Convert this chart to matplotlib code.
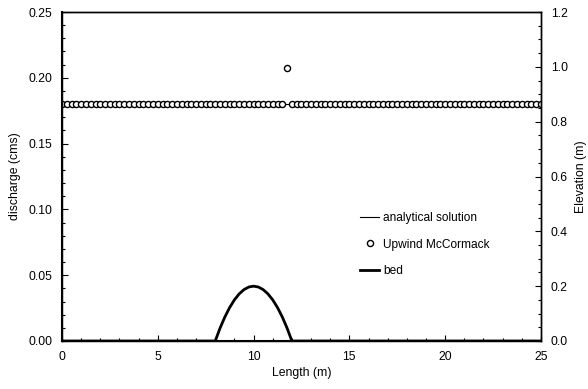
import matplotlib
matplotlib.use("Agg")
import matplotlib.pyplot as plt
from matplotlib.ticker import MultipleLocator

plt.rcParams["font.family"] = ["Liberation Sans", "DejaVu Sans"]
plt.rcParams["font.size"] = 8.8

# analytical solution (discharge, cms)
x_analytical = [0.0, 25.0]
q_analytical = [0.18, 0.18]

# Upwind McCormack, every 0.25 m
x_model = [i * 0.25 for i in range(101)]
q_model = [0.18] * 47 + [0.2075] + [0.18] * 53

# bed elevation (m)
x_bed = [0.0, 8.0, 8.25, 8.5, 8.75, 9.0, 9.25, 9.5, 9.75, 10.0,
         10.25, 10.5, 10.75, 11.0, 11.25, 11.5, 11.75, 12.0, 25.0]
z_bed = [0.0, 0.0, 0.0469, 0.0875, 0.1219, 0.15, 0.1719, 0.1875, 0.1969, 0.2,
         0.1969, 0.1875, 0.1719, 0.15, 0.1219, 0.0875, 0.0469, 0.0, 0.0]

fig = plt.figure(figsize=(5.88, 3.89), dpi=100)
ax = fig.add_axes([0.1054, 0.1234, 0.8146, 0.8457])
ax2 = ax.twinx()

l1, = ax.plot(x_analytical, q_analytical, "-", color="black", lw=0.8,
              label="analytical solution")
l2, = ax.plot(x_model, q_model, "o", mfc="white", mec="black", ms=4.4,
              mew=1.0, label="Upwind McCormack")
l3, = ax2.plot(x_bed, z_bed, "-", color="black", lw=2.0, label="bed")

ax.set_xlim(0, 25)
ax.set_ylim(0, 0.25)
ax2.set_ylim(0, 1.2)

ax.xaxis.set_major_locator(MultipleLocator(5))
ax.xaxis.set_minor_locator(MultipleLocator(1))
ax.yaxis.set_major_locator(MultipleLocator(0.05))
ax.yaxis.set_minor_locator(MultipleLocator(0.01))
ax2.yaxis.set_major_locator(MultipleLocator(0.2))
ax2.yaxis.set_minor_locator(MultipleLocator(0.05))

ax.yaxis.set_major_formatter(lambda v, p: f"{v:.2f}")
ax2.yaxis.set_major_formatter(lambda v, p: f"{v:.1f}")

for a in (ax, ax2):
    a.tick_params(which="both", direction="in", width=0.8)
    a.tick_params(which="major", length=4, pad=7)
    a.tick_params(which="minor", length=2)
    for s in a.spines.values():
        s.set_linewidth(1.0)
ax.spines["left"].set_linewidth(1.5)
ax.spines["bottom"].set_linewidth(1.5)

ax.set_xlabel("Length (m)", labelpad=3)
ax.set_ylabel("discharge (cms)", labelpad=5)
ax2.set_ylabel("Elevation (m)", labelpad=5)

legend_handles = [l1, l2, l3]
ax.legend(legend_handles, [l.get_label() for l in legend_handles],
          loc="upper left", bbox_to_anchor=(0.6, 0.425), frameon=False,
          handlelength=1.6, handletextpad=0.3, labelspacing=1.22,
          fontsize=8.6)

plt.savefig("out.png", dpi=100)
